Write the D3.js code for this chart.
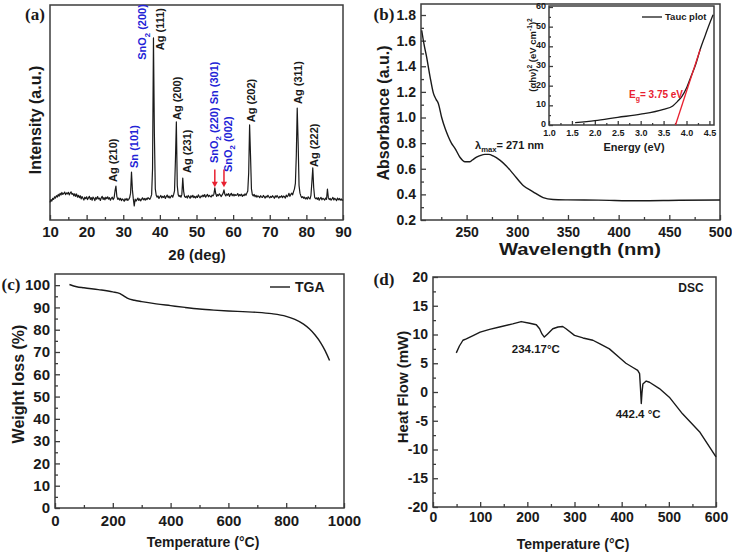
<!DOCTYPE html>
<html>
<head>
<meta charset="utf-8">
<script src="https://cdn.jsdelivr.net/npm/d3@7/dist/d3.min.js"></script>
<style>
  body { margin: 0; background: #fff; }
</style>
</head>
<body>
<svg id="fig"></svg>
<script>
// ---- (a) XRD, intensity every 0.25 deg from 10 to 90 deg
const xrdStart = 10
const xrdStep = 0.25
const xrdIntensity = [
  8.2, 9.5, 8.8, 10.1,   9.6, 10.8, 10.2, 11.3,  10.7, 11.9, 11.1, 12.4,  11.6, 12.8, 11.9, 12.3,
  13.0, 11.8, 12.6, 12.1, 12.9, 11.7, 12.5, 13.1, 11.9, 12.4, 11.2, 12.2,  11.0, 12.1, 10.6, 11.5,
  10.4, 11.3, 9.8, 10.9,  10.1, 9.3, 10.6, 9.9,   10.8, 9.5, 10.3, 11.0,   9.6, 10.4, 9.2, 10.7,
  10.1, 9.0, 10.5, 9.7,   10.9, 9.8, 10.2, 9.1,   10.3, 11.0, 9.6, 10.4,   9.4, 10.6, 9.9, 10.8,
  9.7, 10.4, 9.2, 10.1,   10.6, 9.5, 10.3, 13.5,  15.8, 11.0, 9.6, 10.2,   9.3, 10.1, 9.0, 9.8,
  9.4, 8.7, 9.9, 9.2,     10.0, 9.1, 9.6, 10.4,   12.5, 22.3, 14.0, 9.8,   6.5, 9.7, 8.8, 9.5,
  10.2, 9.1, 9.8, 8.9,    9.6, 10.3, 9.4, 10.0,   9.2, 10.1, 9.5, 10.4,    10.0, 9.6, 10.5, 11.8,
  24.0, 84.7, 40.0, 14.5, 11.5, 10.6, 11.2, 10.0, 10.8, 11.4, 10.3, 11.0,  10.5, 11.3, 10.0, 10.9,
  11.6, 10.4, 11.1, 10.2, 10.9, 11.5, 10.6, 11.8, 13.5, 28.0, 45.6, 16.0,  11.8, 10.9, 11.4, 10.6,
  11.8, 19.5, 13.2, 10.9, 10.5, 11.1, 10.2, 11.4, 10.8, 10.1, 11.3, 10.6,  11.5, 10.4, 11.0, 10.2,
  11.1, 10.5, 11.7, 10.9, 10.3, 11.2, 10.8, 11.6, 10.9, 11.8, 10.6, 11.3,  11.9, 10.8, 11.5, 11.0,
  10.7, 11.6, 11.2, 12.0, 14.9, 12.3, 11.0, 11.8, 11.3, 12.2, 11.6, 10.9,  11.7, 12.4, 14.0, 11.9,
  11.2, 12.1, 11.5, 12.3, 11.0, 11.8, 12.4, 11.3, 12.0, 11.2, 11.9, 11.4,  11.6, 12.3, 11.1, 11.8,
  11.4, 12.0, 11.0, 11.7, 11.3, 12.2, 11.5, 12.5, 13.5, 22.0, 44.2, 30.0,  14.5, 11.8, 11.2, 11.9,
  10.8, 11.5, 10.6, 11.2, 11.0, 10.4, 11.3, 10.7, 10.5, 11.4, 10.9, 10.2,  11.1, 10.6, 11.5, 10.8,
  10.3, 11.0, 10.5, 11.3, 10.8, 10.1, 11.2, 10.6, 11.4, 10.7, 10.2, 11.0,  10.6, 11.3, 10.4, 11.1,
  10.9, 10.2, 11.6, 10.8, 11.3, 12.4, 11.0, 11.9, 12.5, 11.7, 13.2, 14.5,  17.0, 30.0, 52.1, 36.0,
  16.0, 12.5, 11.2, 10.4, 10.9, 10.1, 10.6, 9.8,  10.4, 9.7, 10.8, 10.1,   9.8, 11.5, 17.5, 24.2,
  15.0, 10.6, 9.9, 10.3,  9.6, 10.4, 9.2, 10.0,   10.5, 9.4, 10.1, 9.7,    9.3, 10.2, 9.6, 14.4,
  10.4, 9.5, 10.0, 9.2,   9.8, 10.5, 9.3, 10.1,   9.6, 9.0, 10.2, 9.4,     10.0, 9.2, 9.8, 9.1,
  9.5
]
const xrdTicks = [10, 20, 30, 40, 50, 60, 70, 80, 90]
// [label, angle of label centre, intensity at label foot]
const agLabels = [
  ["Ag (210)", 27.2, 17.7], ["Ag (111)", 40.0, 79], ["Ag (200)", 44.7, 46.5],
  ["Ag (231)", 47.5, 21.9], ["Ag (202)", 64.8, 45.5], ["Ag (311)", 77.8, 54],
  ["Ag (222)", 82.1, 24.7]
]
const snLabels = [
  ["Sn (101)", 33.0, 24.2], ["SnO_2 (200)", 35.2, 74.5],
  ["SnO_2 (220) Sn (301)", 54.7, 26.5], ["SnO_2 (002)", 58.5, 22.3]
]
const arrowAngles = [55.0, 57.5]

// ---- (b) UV-vis absorbance
const uvWavelength = [205.7, 208, 210.6, 213.9, 217.2, 220, 222.1, 225.4, 229, 232, 235, 238.5, 243.4,
  248.4, 253.3, 256, 259.8, 264, 268, 272, 276.2, 282.8, 289.4, 296, 305.8, 315.6, 325.5, 335.3,
  350, 380, 420, 460, 500]
const uvAbsorbance = [1.68, 1.57, 1.47, 1.32, 1.19, 1.14, 1.11, 1.0, 0.91, 0.85, 0.80, 0.76, 0.69,
  0.655, 0.655, 0.67, 0.69, 0.705, 0.712, 0.712, 0.70, 0.667, 0.62, 0.56, 0.47, 0.42, 0.375, 0.36,
  0.357, 0.355, 0.35, 0.354, 0.356]
const uvXTicks = [250, 300, 350, 400, 450, 500]
const uvYTicks = [0.2, 0.4, 0.6, 0.8, 1.0, 1.2, 1.4, 1.6, 1.8]

// inset: Tauc plot
const taucEnergy = [1.57, 2.0, 2.5, 3.0, 3.5, 3.7, 3.8, 3.9, 4.0, 4.1, 4.2, 4.3, 4.4, 4.5, 4.58]
const taucValue = [1.2, 2.2, 3.9, 5.5, 8.0, 9.7, 11.9, 14.5, 18.8, 24.8, 30.8, 38.5, 45, 51.3, 56]
const taucFitEnergy = [3.76, 4.30]
const taucFitValue = [0, 38.5]
const taucXTicks = [1.0, 1.5, 2.0, 2.5, 3.0, 3.5, 4.0, 4.5]
const taucYTicks = [0, 10, 20, 30, 40, 50, 60]

// ---- (c) TGA
const tgaTemp = [50, 75, 100, 150, 200, 225, 240, 250, 275, 300, 350, 400, 450, 500, 550, 600, 650,
  700, 750, 800, 830, 860, 880, 900, 920, 935, 950]
const tgaWeight = [100.3, 99.3, 98.8, 98.0, 97.0, 96.2, 95.0, 94.2, 93.2, 92.6, 91.6, 90.8, 90.0,
  89.3, 88.8, 88.4, 88.1, 87.8, 87.2, 86.0, 84.6, 82.5, 80.4, 77.6, 74.0, 70.5, 66.2]
const tgaXTicks = [0, 200, 400, 600, 800, 1000]
const tgaYTicks = [0, 10, 20, 30, 40, 50, 60, 70, 80, 90, 100]

// ---- (d) DSC
const dscTemp = [49.4, 56, 63.5, 70.6, 85, 100, 120, 141, 169, 187, 205, 219, 226, 231, 236, 243,
  254, 265, 275, 282, 300, 318, 339, 353, 374, 395, 409, 423, 434, 438, 440, 441.6, 443, 445, 452,
  459, 480, 501, 529, 565, 600]
const dscFlow = [6.8, 8.0, 9.0, 9.25, 9.8, 10.4, 10.9, 11.3, 11.85, 12.25, 11.95, 11.7, 11.0, 10.1,
  9.55, 10.1, 11.0, 11.3, 11.4, 11.0, 9.85, 9.4, 9.0, 8.4, 7.5, 6.0, 5.0, 4.3, 3.75, 3.2, 0.5, -2.0,
  -0.2, 1.4, 1.9, 1.7, 0.6, -0.9, -3.8, -6.9, -11.3]
const dscXTicks = [0, 100, 200, 300, 400, 500, 600]
const dscYTicks = [-20, -15, -10, -5, 0, 5, 10, 15, 20]

const font = "'Liberation Sans', Arial, sans-serif"
const serif = "'Liberation Serif', 'Times New Roman', serif"
const ink = "#1a1a1a"
const frameInk = "#3c3c3c"
const blue = "#2323d6"
const red = "#e82030"

const svg = d3.select("#fig").attr("width", 732).attr("height", 554)
  .style("font-family", font)

// text with _x / _{xy} subscripts and ^x / ^{xy} superscripts
function rich(text, str, size) {
  const re = /([_^])\{([^}]*)\}|([_^])(.)|([^_^]+)/g
  let m, cur = 0
  while ((m = re.exec(str))) {
    const mark = m[1] || m[3]
    const body = m[2] != null ? m[2] : (m[4] != null ? m[4] : m[5])
    const target = mark === "_" ? size * 0.3 : mark === "^" ? -size * 0.42 : 0
    const ts = text.append("tspan").text(body).attr("dy", target - cur)
    if (mark) ts.attr("font-size", size * 0.7)
    cur = target
  }
  return text
}

function label(g, str, x, y, size, opts = {}) {
  const t = g.append("text")
    .attr("font-size", size)
    .attr("font-weight", "bold")
    .attr("font-family", opts.family || font)
    .attr("fill", opts.color || ink)
    .attr("text-anchor", opts.anchor || "middle")
  if (opts.rotate) {
    t.attr("transform", `translate(${x},${y}) rotate(-90)`).attr("y", size * 0.36)
  } else {
    t.attr("x", x).attr("y", y + size * 0.36)
  }
  if (opts.length) t.attr("textLength", opts.length).attr("lengthAdjust", "spacingAndGlyphs")
  return rich(t, str, size)
}

function frame(g, x, y, fill) {
  g.append("rect")
    .attr("x", x.range()[0]).attr("y", y.range()[1])
    .attr("width", x.range()[1] - x.range()[0])
    .attr("height", y.range()[0] - y.range()[1])
    .attr("fill", fill || "none")
    .attr("stroke", frameInk).attr("stroke-width", 1.5)
}

function styleAxis(sel, size) {
  sel.attr("color", frameInk)
  sel.select(".domain").remove()
  sel.selectAll("line").attr("stroke-width", 1.3)
  sel.selectAll("text")
    .attr("font-size", size).attr("font-weight", "bold")
    .attr("font-family", font).attr("fill", ink)
}

function xAxis(g, x, y, ticks, minor, o) {
  const y0 = y.range()[0]
  g.append("g").attr("transform", `translate(0,${y0})`)
    .call(d3.axisBottom(x).tickValues(minor).tickSize(-(o.minor || 3)).tickFormat(""))
    .call(s => styleAxis(s, o.size))
  g.append("g").attr("transform", `translate(0,${y0})`)
    .call(d3.axisBottom(x).tickValues(ticks).tickSizeInner(-(o.major || 5)).tickSizeOuter(0)
      .tickPadding(o.pad).tickFormat(o.fmt || (d => String(d))))
    .call(s => styleAxis(s, o.size))
}

function yAxis(g, x, y, ticks, minor, o) {
  const x0 = x.range()[0]
  g.append("g").attr("transform", `translate(${x0},0)`)
    .call(d3.axisLeft(y).tickValues(minor).tickSize(-(o.minor || 3)).tickFormat(""))
    .call(s => styleAxis(s, o.size))
  const ax = g.append("g").attr("transform", `translate(${x0},0)`)
    .call(d3.axisLeft(y).tickValues(ticks).tickSizeInner(-(o.major || 5)).tickSizeOuter(0)
      .tickPadding(o.pad).tickFormat(o.fmt || (d => String(d))))
    .call(s => styleAxis(s, o.size))
  if (o.dy) ax.selectAll("text").attr("dy", o.dy)
}

// ================= (a) XRD =================
{
  const g = svg.append("g")
  const x = d3.scaleLinear().domain([10, 90]).range([50, 343])
  const y = d3.scaleLinear().domain([0, 100]).range([220, 5])

  frame(g, x, y)
  xAxis(g, x, y, xrdTicks, d3.range(15, 90, 10), {size: 15, pad: 6})

  const line = d3.line()
    .x((d, i) => x(xrdStart + i * xrdStep))
    .y(d => y(d))
  g.append("path").datum(xrdIntensity)
    .attr("d", line).attr("fill", "none")
    .attr("stroke", ink).attr("stroke-width", 1.2).attr("stroke-linejoin", "round")

  agLabels.forEach(([t, a, v]) =>
    label(g, t, x(a), y(v), 11, {rotate: true, anchor: "start"}))
  snLabels.forEach(([t, a, v]) =>
    label(g, t, x(a), y(v), 11, {rotate: true, anchor: "start", color: blue}))

  arrowAngles.forEach(a => {
    const ax = x(a)
    g.append("line").attr("x1", ax).attr("x2", ax)
      .attr("y1", y(23.5)).attr("y2", y(17.5))
      .attr("stroke", red).attr("stroke-width", 1.5)
    g.append("path")
      .attr("d", `M${ax - 3},${y(17.8)} L${ax + 3},${y(17.8)} L${ax},${y(15.2)} Z`)
      .attr("fill", red)
  })

  label(g, "2θ (deg)", 197, 255, 15)
  label(g, "Intensity (a.u.)", 35, 120, 16, {rotate: true})
  label(g, "(a)", 35, 14, 17, {family: serif})
}

// ================= (b) UV-vis =================
{
  const g = svg.append("g")
  const x = d3.scaleLinear().domain([205, 500]).range([421, 720])
  const y = d3.scaleLinear().domain([0.2, 1.886]).range([220, 4])

  frame(g, x, y)
  xAxis(g, x, y, uvXTicks, d3.range(225, 500, 50), {size: 14, pad: 7})
  yAxis(g, x, y, uvYTicks, d3.range(0.3, 1.85, 0.2), {size: 14, pad: 5, fmt: d3.format(".1f")})

  const line = d3.line().curve(d3.curveMonotoneX)
    .x(d => x(d[0])).y(d => y(d[1]))
  g.append("path").datum(d3.zip(uvWavelength, uvAbsorbance))
    .attr("d", line).attr("fill", "none")
    .attr("stroke", ink).attr("stroke-width", 1.4)

  const lm = g.append("text").attr("x", 475).attr("y", 149)
    .attr("font-size", 11).attr("font-weight", "bold").attr("fill", ink)
  rich(lm, "λ_{max}= 271 nm", 11)

  label(g, "Wavelength (nm)", 580, 249, 16, {length: 162})
  label(g, "Absorbance (a.u.)", 383, 113, 16, {rotate: true})
  label(g, "(b)", 384, 14, 17, {family: serif})

  // inset
  const ix = d3.scaleLinear().domain([1.0, 4.6]).range([549, 714])
  const iy = d3.scaleLinear().domain([0, 60.5]).range([125, 6])
  frame(g, ix, iy, "#fff")
  xAxis(g, ix, iy, taucXTicks, d3.range(1.25, 4.6, 0.5), {size: 9, pad: 5, major: 4, minor: 2, fmt: d3.format(".1f")})
  yAxis(g, ix, iy, taucYTicks, d3.range(5, 60, 10), {size: 9, pad: 3, major: 4, minor: 2, dy: "0.15em"})

  const il = d3.line().curve(d3.curveMonotoneX)
    .x(d => ix(d[0])).y(d => iy(d[1]))
  g.append("path").datum(d3.zip(taucEnergy, taucValue))
    .attr("d", il).attr("fill", "none").attr("stroke", ink).attr("stroke-width", 1.3)
  g.append("path").datum(d3.zip(taucFitEnergy, taucFitValue))
    .attr("d", d3.line().x(d => ix(d[0])).y(d => iy(d[1])))
    .attr("stroke", red).attr("stroke-width", 1.3)

  g.append("line").attr("x1", 642).attr("x2", 662).attr("y1", 17).attr("y2", 17)
    .attr("stroke", ink).attr("stroke-width", 1.3)
  label(g, "Tauc plot", 665, 17, 9.5, {anchor: "start"})
  const eg = g.append("text").attr("x", 629).attr("y", 98)
    .attr("font-size", 10).attr("font-weight", "bold").attr("fill", red)
  rich(eg, "E_g= 3.75 eV", 10)

  label(g, "Energy (eV)", 634, 147, 11)
  label(g, "(αhν)^2 (eV cm^{-1})^2", 533, 55, 9.5, {rotate: true})
}

// ================= (c) TGA =================
{
  const g = svg.append("g")
  const x = d3.scaleLinear().domain([0, 1000]).range([55, 344])
  const y = d3.scaleLinear().domain([0, 105]).range([508, 274])

  frame(g, x, y)
  xAxis(g, x, y, tgaXTicks, d3.range(100, 1000, 200), {size: 15, pad: 7})
  yAxis(g, x, y, tgaYTicks, d3.range(5, 105, 10), {size: 15, pad: 5})

  const line = d3.line().curve(d3.curveMonotoneX)
    .x(d => x(d[0])).y(d => y(d[1]))
  g.append("path").datum(d3.zip(tgaTemp, tgaWeight))
    .attr("d", line).attr("fill", "none")
    .attr("stroke", ink).attr("stroke-width", 1.4)

  g.append("line").attr("x1", 270).attr("x2", 290).attr("y1", 287).attr("y2", 287)
    .attr("stroke", ink).attr("stroke-width", 1.4)
  label(g, "TGA", 295, 287, 14, {anchor: "start"})

  label(g, "Temperature (°C)", 203, 542, 14)
  label(g, "Weight  loss (%)", 18, 384, 16, {rotate: true})
  label(g, "(c)", 11, 284, 17, {family: serif})
}

// ================= (d) DSC =================
{
  const g = svg.append("g")
  const x = d3.scaleLinear().domain([0, 600]).range([433, 716])
  const y = d3.scaleLinear().domain([-20, 20]).range([507, 277])

  frame(g, x, y)
  xAxis(g, x, y, dscXTicks, d3.range(50, 600, 100), {size: 14, pad: 5})
  yAxis(g, x, y, dscYTicks, d3.range(-17.5, 20, 5), {size: 14, pad: 5})

  const line = d3.line()
    .x(d => x(d[0])).y(d => y(d[1]))
  g.append("path").datum(d3.zip(dscTemp, dscFlow))
    .attr("d", line).attr("fill", "none")
    .attr("stroke", ink).attr("stroke-width", 1.4).attr("stroke-linejoin", "round")

  label(g, "234.17°C", x(218), y(7.5), 11.5)
  label(g, "442.4 °C", x(435), y(-3.8), 11.5)
  label(g, "DSC", 691, 288, 12)

  label(g, "Temperature (°C)", 573, 544, 14)
  label(g, "Heat Flow (mW)", 403, 387, 15, {rotate: true})
  label(g, "(d)", 384, 279, 17, {family: serif})
}
</script>
</body>
</html>
